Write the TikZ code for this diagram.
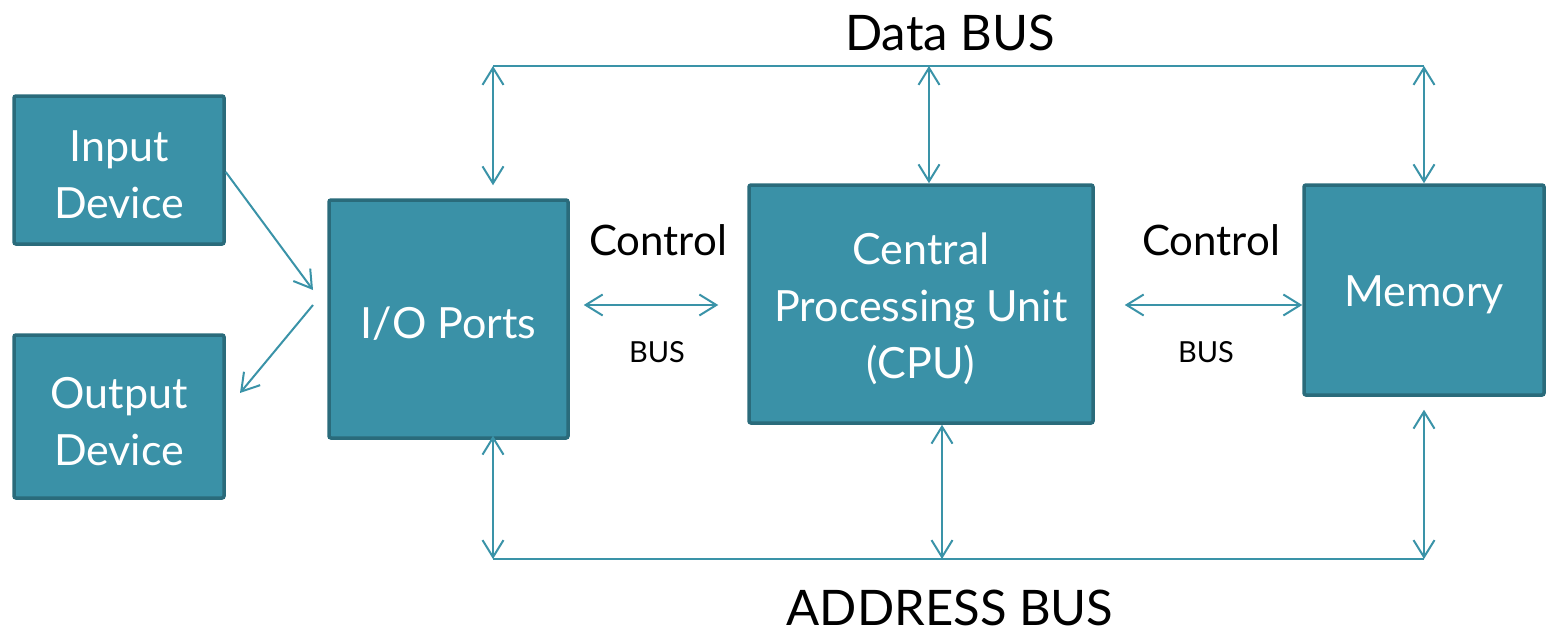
\documentclass[tikz,border=0pt]{standalone}
\usepackage{fontspec}
\setmainfont{Lato}
\usetikzlibrary{arrows.meta}
\definecolor{boxfill}{HTML}{3A91A7}
\definecolor{boxline}{HTML}{2A6B7B}
\definecolor{busline}{HTML}{3A93A8}
\begin{document}
\begin{tikzpicture}[x=1pt,y=-1pt,
  unitbox/.style={draw=boxline,fill=boxfill,line width=3.5pt,rounded corners=2pt,inner sep=0pt},
  boxtxt/.style={text=white,font=\fontsize{43}{57}\selectfont,align=center,inner sep=0pt,yshift=-5pt},
  busln/.style={draw=busline,line width=2pt},
  biarr/.style={busln,{Straight Barb[length=17pt,width=21pt]}-{Straight Barb[length=17pt,width=21pt]}},
  onearr/.style={busln,-{Straight Barb[length=17pt,width=21pt]}},
  biglbl/.style={font=\fontsize{49}{52}\selectfont,inner sep=0pt},
  ctllbl/.style={font=\fontsize{42}{46}\selectfont,inner sep=0pt},
  smlbl/.style={font=\fontsize{29}{32}\selectfont,inner sep=0pt}]
\useasboundingbox (0,0) rectangle (1547,634);

\node[unitbox,minimum width=210pt,minimum height=148pt] (in) at (119,170) {};
\node[unitbox,minimum width=210pt,minimum height=163pt] (out) at (119,416.5) {};
\node[unitbox,minimum width=239pt,minimum height=238pt] (io) at (448.5,319) {};
\node[unitbox,minimum width=344pt,minimum height=238pt] (cpu) at (921,304) {};
\node[unitbox,minimum width=240pt,minimum height=210pt] (mem) at (1424,290) {};

\node[boxtxt] (inT) at (in.center) {Input\\Device};
\node[boxtxt] (outT) at (out.center) {Output\\Device};
\node[boxtxt] (ioT) at (io.center) {I/O Ports};
\node[boxtxt] (cpuT) at (cpu.center) {Central\\Processing Unit\\(CPU)};
\node[boxtxt] (memT) at (mem.center) {Memory};

% labels
\node[biglbl] (dbus) at (950,33) {Data BUS};
\node[biglbl,anchor=base] (abus) at (950,625) {ADDRESS BUS};
\node[ctllbl] (c1) at (658,240) {Control};
\node[smlbl] (b1) at (657,352) {BUS};
\node[ctllbl] (c2) at (1211,240) {Control};
\node[smlbl] (b2) at (1206,352) {BUS};

% data bus
\coordinate (dL) at (493,66);
\coordinate (dC) at (929,66);
\coordinate (dR) at (1424,66);
\draw[busln] (dL) -- (dR);
\draw[biarr,shorten >=13pt] (dL) -- (dL |- io.north);
\draw[biarr] (dC) -- (dC |- cpu.north);
\draw[biarr] (dR) -- (dR |- mem.north);

% address bus
\coordinate (aL) at (493,559);
\coordinate (aC) at (942,559);
\coordinate (aR) at (1424,559);
\draw[busln] (aL) -- (aR);
\draw[biarr,shorten >=-4pt] (aL) -- (aL |- io.south);
\draw[biarr] (aC) -- (aC |- cpu.south);
\draw[biarr,shorten >=13pt] (aR) -- (aR |- mem.south);

% control buses
\draw[biarr,shorten <=14pt,shorten >=29pt] (io.east |- 0,305) -- (cpu.west |- 0,305);
\draw[biarr,shorten <=30pt] (cpu.east |- 0,305) -- (mem.west |- 0,305);

% device links
\coordinate (inEnd) at (313,290);
\coordinate (outStart) at (313,305);
\coordinate (outEnd) at (240,393);
\draw[onearr] (in.east |- 0,172) -- (inEnd);
\draw[onearr] (outStart) -- (outEnd);
\end{tikzpicture}
\end{document}
